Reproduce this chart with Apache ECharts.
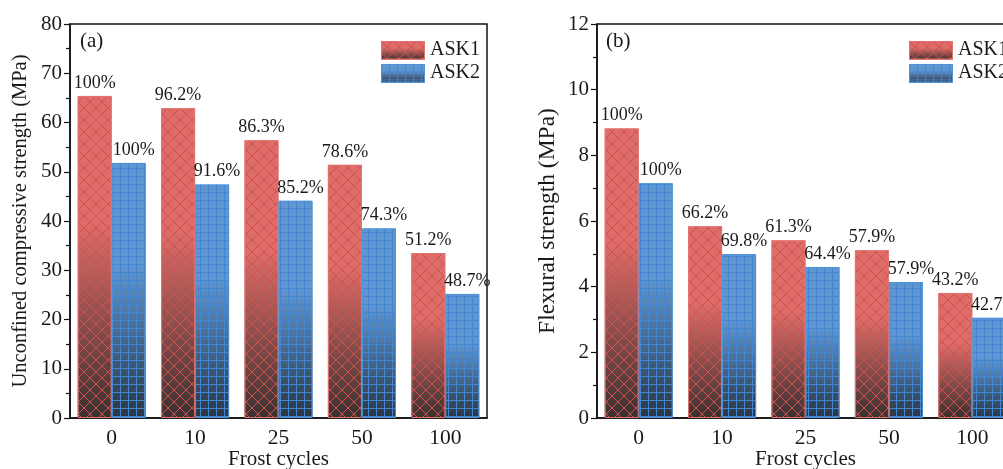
<!DOCTYPE html>
<html>
<head>
<meta charset="utf-8">
<script src="https://cdn.jsdelivr.net/npm/echarts@6/dist/echarts.min.js"></script>
<style>
  html, body { margin: 0; padding: 0; background: #fff; }
  #chart { width: 1003px; height: 469px; }
</style>
</head>
<body>
<div id="chart"></div>
<script>
// Frost cycles on the category axis
const categories = ['0', '10', '25', '50', '100'];

// (a) Unconfined compressive strength, MPa
const ucsAsk1 = [65.4, 62.9, 56.4, 51.4, 33.5];
const ucsAsk2 = [51.8, 47.4, 44.1, 38.5, 25.2];
const ucsAsk1Pct = ['100%', '96.2%', '86.3%', '78.6%', '51.2%'];
const ucsAsk2Pct = ['100%', '91.6%', '85.2%', '74.3%', '48.7%'];

// (b) Flexural strength, MPa
const flexAsk1 = [8.82, 5.84, 5.41, 5.11, 3.81];
const flexAsk2 = [7.15, 4.99, 4.60, 4.14, 3.05];
const flexAsk1Pct = ['100%', '66.2%', '61.3%', '57.9%', '43.2%'];
const flexAsk2Pct = ['100%', '69.8%', '64.4%', '57.9%', '42.7%'];

const FONT = '"Liberation Serif", "Times New Roman", serif';
const INK = '#1a1a1a';

const RED = { top: '#de6c68', dark: '#393030', line: '#d0524e', edge: '#e27570' };
const BLUE = { top: '#5f96d2', dark: '#2b3540', line: '#4286d2', edge: '#4f93dc' };

// Repeating hatch tiles: diagonal cross-hatch for ASK1, square grid for ASK2
function crossTile(color) {
  const c = document.createElement('canvas');
  c.width = 12; c.height = 12;
  const ctx = c.getContext('2d');
  ctx.strokeStyle = color;
  ctx.lineWidth = 1;
  ctx.beginPath();
  ctx.moveTo(-2, -2); ctx.lineTo(14, 14);
  ctx.moveTo(14, -2); ctx.lineTo(-2, 14);
  ctx.stroke();
  return c;
}
function gridTile(color) {
  const c = document.createElement('canvas');
  c.width = 8; c.height = 8;
  const ctx = c.getContext('2d');
  ctx.fillStyle = color;
  ctx.fillRect(0, 0, 8, 1);
  ctx.fillRect(0, 0, 1, 8);
  return c;
}
const redTile = crossTile(RED.line);
const blueTile = gridTile(BLUE.line);

function shade(p) {
  return new echarts.graphic.LinearGradient(0, 0, 0, 1, [
    { offset: 0, color: p.top },
    { offset: 0.4, color: p.top },
    { offset: 1, color: p.dark }
  ]);
}

// Legend swatch with the same shading and hatch as the bars
function swatch(p, tile) {
  const w = 44, h = 19;
  const c = document.createElement('canvas');
  c.width = w; c.height = h;
  const ctx = c.getContext('2d');
  const g = ctx.createLinearGradient(0, 0, 0, h);
  g.addColorStop(0, p.top);
  g.addColorStop(0.4, p.top);
  g.addColorStop(1, p.dark);
  ctx.fillStyle = g;
  ctx.fillRect(0, 0, w, h);
  ctx.fillStyle = ctx.createPattern(tile, 'repeat');
  ctx.fillRect(0, 0, w, h);
  ctx.strokeStyle = p.edge;
  ctx.lineWidth = 1;
  ctx.strokeRect(0.5, 0.5, w - 1, h - 1);
  return 'image://' + c.toDataURL();
}
const redIcon = swatch(RED, redTile);
const blueIcon = swatch(BLUE, blueTile);

const BAR_W = 34;

function panelSeries(xMain, xHatch, yIdx, a1, a2, p1, p2) {
  const label = (arr, dx) => ({
    show: true, position: 'top', distance: 4, offset: [dx, 0],
    color: INK, fontFamily: FONT, fontSize: 18,
    formatter: (d) => arr[d.dataIndex]
  });
  return [
    { name: 'ASK1', type: 'bar', xAxisIndex: xMain, yAxisIndex: yIdx, data: a1,
      barWidth: BAR_W, barGap: '0%', z: 2, silent: true,
      itemStyle: { color: shade(RED) } },
    { name: 'ASK2', type: 'bar', xAxisIndex: xMain, yAxisIndex: yIdx, data: a2,
      barWidth: BAR_W, barGap: '0%', z: 2, silent: true,
      itemStyle: { color: shade(BLUE) } },
    { name: 'ASK1', type: 'bar', xAxisIndex: xHatch, yAxisIndex: yIdx, data: a1,
      barWidth: BAR_W, barGap: '0%', z: 3, silent: true,
      itemStyle: { color: { image: redTile, repeat: 'repeat' }, borderColor: RED.edge, borderWidth: 1 },
      label: label(p1, 0) },
    { name: 'ASK2', type: 'bar', xAxisIndex: xHatch, yAxisIndex: yIdx, data: a2,
      barWidth: BAR_W, barGap: '0%', z: 3, silent: true,
      itemStyle: { color: { image: blueTile, repeat: 'repeat' }, borderColor: BLUE.edge, borderWidth: 1 },
      label: label(p2, 5) }
  ];
}

function catAxis(grid, visible) {
  return {
    type: 'category', gridIndex: grid, data: categories, show: visible,
    name: visible ? 'Frost cycles' : '', nameLocation: 'middle', nameGap: 31,
    nameMoveOverlap: false,
    nameTextStyle: { color: INK, fontFamily: FONT, fontSize: 21 },
    axisLine: { show: true, lineStyle: { color: '#111', width: 1.5 } },
    axisTick: { show: false },
    axisLabel: { interval: 0, margin: 9, color: INK, fontFamily: FONT, fontSize: 21.5 },
    splitLine: { show: false }
  };
}

function valAxis(grid, max, interval, name, gap, nameSize) {
  return {
    type: 'value', gridIndex: grid, min: 0, max: max, interval: interval,
    name: name, nameLocation: 'middle', nameGap: gap,
    nameTextStyle: { color: INK, fontFamily: FONT, fontSize: nameSize },
    axisLine: { show: true, lineStyle: { color: '#111', width: 1.5 } },
    axisTick: { show: true, inside: false, length: 6, lineStyle: { color: '#111', width: 1.2 } },
    minorTick: { show: true, splitNumber: 2, length: 4, lineStyle: { color: '#111', width: 1.2 } },
    axisLabel: { margin: 8, color: INK, fontFamily: FONT, fontSize: 21 },
    splitLine: { show: false }
  };
}

function legendAt(left) {
  return {
    orient: 'vertical', left: left, top: 35,
    itemWidth: 44, itemHeight: 19, itemGap: 3,
    selectedMode: false,
    textStyle: { color: INK, fontFamily: FONT, fontSize: 20 },
    data: [
      { name: 'ASK1', icon: redIcon },
      { name: 'ASK2', icon: blueIcon }
    ]
  };
}

const chart = echarts.init(document.getElementById('chart'), null, { renderer: 'canvas' });
chart.setOption({
  backgroundColor: '#ffffff',
  animation: false,
  title: [
    { text: '(a)', left: 75, top: 26, textStyle: { color: INK, fontFamily: FONT, fontSize: 21, fontWeight: 'normal' } },
    { text: '(b)', left: 601, top: 26, textStyle: { color: INK, fontFamily: FONT, fontSize: 21, fontWeight: 'normal' } }
  ],
  legend: [legendAt(376), legendAt(904)],
  grid: [
    { left: 70, top: 24, width: 417, height: 394, show: true, borderColor: '#111', borderWidth: 1.5,
      backgroundColor: 'transparent', containLabel: false, outerBoundsMode: 'none' },
    { left: 597, top: 24, width: 417, height: 394, show: true, borderColor: '#111', borderWidth: 1.5,
      backgroundColor: 'transparent', containLabel: false, outerBoundsMode: 'none' }
  ],
  xAxis: [catAxis(0, true), catAxis(0, false), catAxis(1, true), catAxis(1, false)],
  yAxis: [
    valAxis(0, 80, 10, 'Unconfined compressive strength (MPa)', 39, 20.5),
    valAxis(1, 12, 2, 'Flexural strength (MPa)', 37, 23.5)
  ],
  series: [
    ...panelSeries(0, 1, 0, ucsAsk1, ucsAsk2, ucsAsk1Pct, ucsAsk2Pct),
    ...panelSeries(2, 3, 1, flexAsk1, flexAsk2, flexAsk1Pct, flexAsk2Pct)
  ]
});
</script>
</body>
</html>
